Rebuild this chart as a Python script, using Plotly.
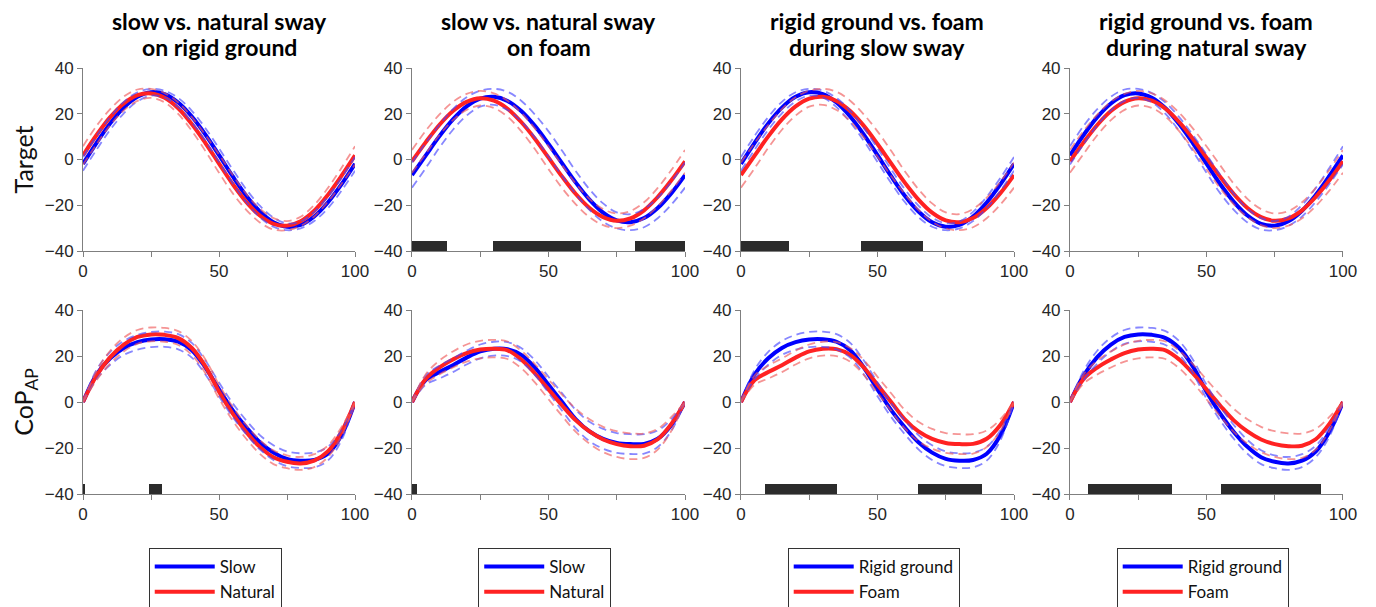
import plotly.graph_objects as go
from plotly.subplots import make_subplots

# % of sway cycle
pct = list(range(0, 101, 5))

# target position (mean and SD) per condition
target_slow_rigid = [-1.9, 7.3, 15.8, 22.7, 27.4, 29.4, 28.6, 24.9, 18.8, 10.9, 1.9,
                     -7.3, -15.8, -22.7, -27.4, -29.4, -28.6, -24.9, -18.8, -10.9, -1.9]
target_slow_rigid_sd = [3, 3, 2.8, 2.5, 2, 1.5, 1.5, 2, 2.5, 2.8, 3,
                        3, 2.8, 2.5, 2, 1.5, 1.5, 2, 2.5, 2.8, 3]
target_natural_rigid = [1.8, 10.7, 18.5, 24.5, 28.1, 28.9, 27.0, 22.4, 15.5, 7.2, -1.8,
                        -10.7, -18.5, -24.5, -28.1, -28.9, -27.0, -22.4, -15.5, -7.2, 1.8]
target_natural_rigid_sd = [4, 4, 3.5, 3, 2.5, 2, 2, 2.5, 3, 3.5, 4,
                           4, 3.5, 3, 2.5, 2, 2, 2.5, 3, 3.5, 4]
target_slow_foam = [-6.8, 1.7, 10.1, 17.5, 23.2, 26.6, 27.4, 25.6, 21.2, 14.7, 6.8,
                    -1.7, -10.1, -17.5, -23.2, -26.6, -27.4, -25.6, -21.2, -14.7, -6.8]
target_slow_foam_sd = [5.5, 5.5, 5, 4.5, 4, 3.5, 3.5, 4, 4.5, 5, 5.5,
                       5.5, 5, 4.5, 4, 3.5, 3.5, 4, 4.5, 5, 5.5]
target_natural_foam = [-0.8, 7.5, 15.1, 21.2, 25.2, 26.8, 25.7, 22.2, 16.4, 9.1, 0.8,
                       -7.5, -15.1, -21.2, -25.2, -26.8, -25.7, -22.2, -16.4, -9.1, -0.8]
target_natural_foam_sd = [5, 5, 4.5, 4, 3.5, 3.2, 3.2, 3.5, 4, 4.5, 5,
                          5, 4.5, 4, 3.5, 3.2, 3.2, 3.5, 4, 4.5, 5]

# anterior-posterior centre of pressure (mean and SD) per condition
cop_slow_rigid = [0, 12, 19, 23.5, 26, 27.2, 27.3, 26.2, 22.5, 15, 5.5,
                  -3.5, -11, -17.5, -22, -24.7, -25.5, -25.2, -22.5, -14.5, 0]
cop_slow_rigid_sd = [0, 2, 2.8, 3, 3.2, 3.3, 3.3, 3.3, 3.2, 3, 3,
                     3, 3, 3.1, 3.2, 3.2, 3.2, 3.2, 3, 2.2, 0]
cop_natural_rigid = [0, 11.5, 19.5, 25, 28.3, 29.4, 29.2, 27.8, 23.5, 15.5, 4.5,
                     -5, -13, -19.5, -24, -26, -26.7, -25.5, -21.5, -13, 0]
cop_natural_rigid_sd = [0, 2, 2.8, 3, 3, 3, 3, 3, 3, 3, 3,
                        3, 3, 3, 3, 2.8, 2.8, 2.8, 2.5, 2, 0]
cop_slow_foam = [0, 9.5, 13, 16, 19.3, 22, 23.2, 23, 20.5, 15, 7.5,
                 0, -7.5, -12.8, -16, -17.8, -18.3, -18.2, -16, -10, 0]
cop_slow_foam_sd = [0, 2, 2.8, 3, 3, 3, 3, 3, 3, 3.2, 3.5,
                    3.8, 4, 4.2, 4.3, 4.3, 4.3, 4.2, 3.6, 2.5, 0]
cop_natural_foam = [0, 10, 15, 18.5, 21.3, 22.8, 23.2, 22.5, 18.5, 12.5, 5.5,
                    -1.5, -8, -12.8, -16.3, -18.3, -19.2, -19, -16.2, -9.5, 0]
cop_natural_foam_sd = [0, 2, 3, 3.5, 3.7, 3.8, 3.8, 3.8, 3.8, 4, 4.3,
                       4.6, 5, 5.3, 5.5, 5.6, 5.6, 5.3, 4.5, 3, 0]

conditions = {
    "slow_rigid": [(target_slow_rigid, target_slow_rigid_sd), (cop_slow_rigid, cop_slow_rigid_sd)],
    "natural_rigid": [(target_natural_rigid, target_natural_rigid_sd), (cop_natural_rigid, cop_natural_rigid_sd)],
    "slow_foam": [(target_slow_foam, target_slow_foam_sd), (cop_slow_foam, cop_slow_foam_sd)],
    "natural_foam": [(target_natural_foam, target_natural_foam_sd), (cop_natural_foam, cop_natural_foam_sd)],
}

titles = [
    ("slow vs. natural sway", "on rigid ground"),
    ("slow vs. natural sway", "on foam"),
    ("rigid ground vs. foam", "during slow sway"),
    ("rigid ground vs. foam", "during natural sway"),
]
comparisons = [
    ("slow_rigid", "natural_rigid"),
    ("slow_foam", "natural_foam"),
    ("slow_rigid", "slow_foam"),
    ("natural_rigid", "natural_foam"),
]
legend_names = [("Slow", "Natural"), ("Slow", "Natural"),
                ("Rigid ground", "Foam"), ("Rigid ground", "Foam")]

# significant portions of the cycle [start, end] per panel: row 1 (target), row 2 (CoP)
sig_target = [[], [(0, 12.8), (29.8, 62), (81.7, 100)], [(0, 17.6), (44, 66.7)], []]
sig_cop = [[(0, 0.7), (24.3, 29)], [(0, 2)], [(8.8, 35.2), (64.8, 88.3)], [(6.6, 37.4), (55.3, 91.9)]]

BLUE, RED = "#0000ff", "#ff2222"
BLUE_SD, RED_SD = "rgba(70,70,255,0.65)", "rgba(240,90,90,0.65)"

fig = make_subplots(rows=2, cols=4)

x_dom = [[0, 0.2159], [0.2611, 0.4778], [0.5222, 0.7389], [0.7833, 1.0]]
y_dom = [[0.5704, 1.0], [0.0, 0.4319]]

for c in range(4):
    a, b = comparisons[c]
    for r in range(2):
        sig = sig_target[c] if r == 0 else sig_cop[c]
        if sig:
            fig.add_trace(go.Bar(
                x=[(s + e) / 2 for s, e in sig], y=[4.5] * len(sig), base=-40,
                width=[e - s for s, e in sig], marker=dict(color="#2b2b2b", line_width=0),
                showlegend=False, hoverinfo="skip"), row=r + 1, col=c + 1)
        for cond, col, name in [(a, BLUE, legend_names[c][0]), (b, RED, legend_names[c][1])]:
            mean, sd = conditions[cond][r]
            fig.add_trace(go.Scatter(
                x=pct, y=mean, mode="lines", name=name,
                line=dict(color=col, width=4, shape="spline"),
                showlegend=(r == 0), legend="legend" if c == 0 else f"legend{c + 1}"),
                row=r + 1, col=c + 1)
        for cond, sd_col in [(a, BLUE_SD), (b, RED_SD)]:
            mean, sd = conditions[cond][r]
            for sign in (1, -1):
                fig.add_trace(go.Scatter(
                    x=pct, y=[m + sign * s for m, s in zip(mean, sd)], mode="lines",
                    line=dict(color=sd_col, width=1.8, dash="8px,5px", shape="spline"),
                    showlegend=False, hoverinfo="skip"), row=r + 1, col=c + 1)

axis_font = dict(family="Liberation Sans, Arial", size=17, color="#262626")
for r in range(2):
    for c in range(4):
        fig.update_xaxes(domain=x_dom[c], range=[0, 100], tickvals=[0, 25, 50, 75, 100],
                         ticktext=["0", "", "50", "", "100"], ticks="outside", ticklen=5,
                         tickcolor="#7f7f7f", showline=True, linecolor="#7f7f7f", linewidth=1,
                         showgrid=False, zeroline=False, tickfont=axis_font, automargin=False,
                         row=r + 1, col=c + 1)
        fig.update_yaxes(domain=y_dom[r], range=[-40, 40], tickvals=[-40, -20, 0, 20, 40],
                         ticks="outside", ticklen=5, tickcolor="#7f7f7f", showline=True,
                         linecolor="#7f7f7f", linewidth=1, showgrid=False, zeroline=False,
                         tickfont=axis_font, automargin=False, row=r + 1, col=c + 1)

ytitle_font = dict(family="Lato", size=25, color="#111")
fig.update_yaxes(title=dict(text="Target", font=ytitle_font, standoff=9), row=1, col=1)
fig.update_yaxes(title=dict(text="CoP<sub>AP</sub>", font=ytitle_font, standoff=9), row=2, col=1)

# two-line panel titles, one annotation per line for tighter line spacing
for c in range(4):
    xc = (x_dom[c][0] + x_dom[c][1]) / 2
    for line, shift in zip(titles[c], (47, 21)):
        fig.add_annotation(text=f"<b>{line}</b>", xref="paper", yref="paper", x=xc, y=1.0,
                           xanchor="center", yanchor="middle", yshift=shift, showarrow=False,
                           font=dict(family="Lato", size=23, color="#000"))

# the page body adds an 8px offset, so everything is placed 8px up/left
legend_style = dict(xanchor="center", yanchor="top", yref="container", y=1 - 540 / 607,
                    bgcolor="white", bordercolor="#333", borderwidth=1, orientation="v",
                    font=dict(family="Lato", size=17, color="#111"), itemwidth=60)
legends = {}
for c in range(4):
    key = "legend" if c == 0 else f"legend{c + 1}"
    legends[key] = dict(legend_style, x=(x_dom[c][0] + x_dom[c][1]) / 2 - 0.003)

fig.update_layout(
    width=1376, height=607,
    margin=dict(l=75, r=41, t=60, b=121),
    plot_bgcolor="white", paper_bgcolor="white",
    barmode="overlay", bargap=0,
    **legends,
)

fig.write_html("out.html")
